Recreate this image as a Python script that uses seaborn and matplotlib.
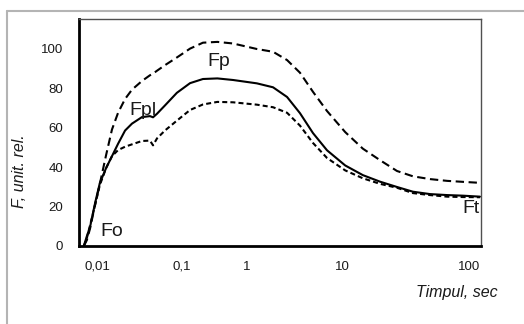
import numpy as np
import pandas as pd
import matplotlib
matplotlib.use("Agg")
import matplotlib.pyplot as plt
from matplotlib.lines import Line2D
from matplotlib.ticker import FixedLocator, FixedFormatter, NullFormatter
import seaborn as sns

# ---- data ----
time_s = [0.0070, 0.0076, 0.0083, 0.0095, 0.0108, 0.0128, 0.0150, 0.0177, 0.0214,
          0.0258, 0.0338, 0.0420, 0.0456, 0.0508, 0.0630, 0.0870, 0.133, 0.210,
          0.350, 0.610, 1.27, 1.88, 2.64, 3.61, 4.95, 6.95, 10.6, 14.6, 19.9,
          27.1, 36.2, 49.3, 67.2, 89.7, 122.0]
F_main = [0.0, 5.0, 9.8, 21.8, 31.9, 39.5, 45.5, 51.8, 58.5, 62.0, 65.3, 65.8, 65.2,
          67.0, 71.2, 77.6, 82.5, 84.6, 84.9, 84.1, 82.4, 80.4, 75.5, 67.3, 57.2,
          48.5, 40.8, 35.9, 32.6, 29.9, 27.5, 26.3, 25.8, 25.5, 25.0]
F_upper = [0.0, 3.0, 9.0, 21.0, 31.5, 46.1, 59.0, 67.5, 74.5, 79.2, 83.6, 86.5, 87.3,
           88.8, 91.6, 95.5, 100.0, 103.0, 103.4, 102.6, 99.8, 98.4, 94.2, 87.8, 78.1,
           68.4, 57.7, 49.3, 43.5, 38.0, 35.3, 33.9, 33.0, 32.5, 32.0]
F_lower = [0.0, 4.0, 10.6, 20.8, 30.9, 39.5, 45.5, 48.6, 50.3, 51.5, 53.2, 53.4, 51.0,
           54.5, 58.5, 63.5, 68.9, 71.7, 73.0, 72.8, 71.6, 70.3, 67.5, 61.0, 52.2,
           44.6, 38.3, 34.3, 31.5, 29.5, 26.8, 25.8, 25.0, 24.8, 24.7]
x_tick_values = [0.01, 0.1, 1, 10, 100]
x_tick_labels = ["0,01", "0,1", "1", "10", "100"]
y_ticks = [0, 20, 40, 60, 80, 100]
curve_labels = ["Fo", "Fpl", "Fp", "Ft"]

df = pd.DataFrame({
    "t": time_s * 3,
    "F": F_main + F_upper + F_lower,
    "curve": ["main"] * len(time_s) + ["upper"] * len(time_s) + ["lower"] * len(time_s),
})

# ---- axis mapping (the reference's time axis is not evenly spaced per decade) ----
L_anchor = np.array([-3, -2, -1, 0, 1, 2, 3], dtype=float)
P_anchor = np.array([12, 97, 182, 247, 342, 469, 596], dtype=float)

def fwd(t):
    t = np.asarray(t, dtype=float)
    return np.interp(np.log10(np.maximum(t, 1e-12)), L_anchor, P_anchor)

def inv(p):
    p = np.asarray(p, dtype=float)
    return 10 ** np.interp(p, P_anchor, L_anchor)

W, H = 524, 324
fig = plt.figure(figsize=(W / 100, H / 100), dpi=100)
sns.set_style("white")
plt.rcParams["font.family"] = ["Liberation Sans", "DejaVu Sans"]

ax_l, ax_r, ax_t, ax_b = 79, 481, 19, 246
ax = fig.add_axes([ax_l / W, 1 - ax_b / H, (ax_r - ax_l) / W, (ax_b - ax_t) / H])

sns.lineplot(data=df, x="t", y="F", style="curve", color="black",
             dashes={"main": "", "upper": (4, 2.2), "lower": (2.4, 1.5)},
             linewidth=1.5, legend=False, ax=ax, sort=False, estimator=None)

ax.set_xscale("function", functions=(fwd, inv))
ax.set_xlim(float(inv(ax_l)), float(inv(ax_r)))
ax.set_ylim(0, 115)

txtc = "#1a1a1a"
ax.xaxis.set_major_locator(FixedLocator(x_tick_values))
ax.xaxis.set_major_formatter(FixedFormatter(x_tick_labels))
minor_pos = [float(inv(ax_l + k * (ax_r - ax_l) / 18)) for k in range(19)]
ax.xaxis.set_minor_locator(FixedLocator(minor_pos))
ax.xaxis.set_minor_formatter(NullFormatter())
ax.set_yticks(y_ticks)
ax.set_yticklabels([str(v) for v in y_ticks])

ax.tick_params(axis="x", which="major", length=0, pad=10.5, labelsize=9.5, labelcolor=txtc)
ax.tick_params(axis="x", which="minor", direction="out", length=2.5, width=1.5, color="black")
ax.tick_params(axis="y", which="major", direction="in", length=2.5, width=1.5,
               pad=11.5, labelsize=9.5, labelcolor=txtc, color="black")

for s in ["left", "bottom"]:
    ax.spines[s].set_color("black")
    ax.spines[s].set_linewidth(2.0)
for s in ["top", "right"]:
    ax.spines[s].set_color("#505050")
    ax.spines[s].set_linewidth(1.0)
ax.set_xlabel("")
ax.set_ylabel("")

def axfrac(px, py):
    return ((px - ax_l) / (ax_r - ax_l), (ax_b - py) / (ax_b - ax_t))

label_pos = [(100.5, 236), (129, 115), (207, 66.5), (462, 213)]
for name, (px, py) in zip(curve_labels, label_pos):
    fx, fy = axfrac(px, py)
    ax.text(fx, fy, name, transform=ax.transAxes, fontsize=14, color=txtc,
            ha="left", va="baseline", clip_on=False)

fig.text(20 / W, 1 - 171 / H, "F, unit. rel.", rotation=90, ha="center", va="center",
         fontsize=11.5, style="italic", color=txtc)
fig.text(457 / W, 1 - 293 / H, "Timpul, sec", ha="center", va="center",
         fontsize=11.5, style="italic", color=txtc)

# outer gray frame (cut off at right and bottom)
fc = "#b4b4b4"
fig.add_artist(Line2D([6.5 / W, 1.0], [1 - 11 / H, 1 - 11 / H], transform=fig.transFigure,
                      color=fc, linewidth=1.5))
fig.add_artist(Line2D([6.5 / W, 6.5 / W], [1 - 11 / H, 0.0], transform=fig.transFigure,
                      color=fc, linewidth=1.5))

fig.savefig("out.png", dpi=100)
